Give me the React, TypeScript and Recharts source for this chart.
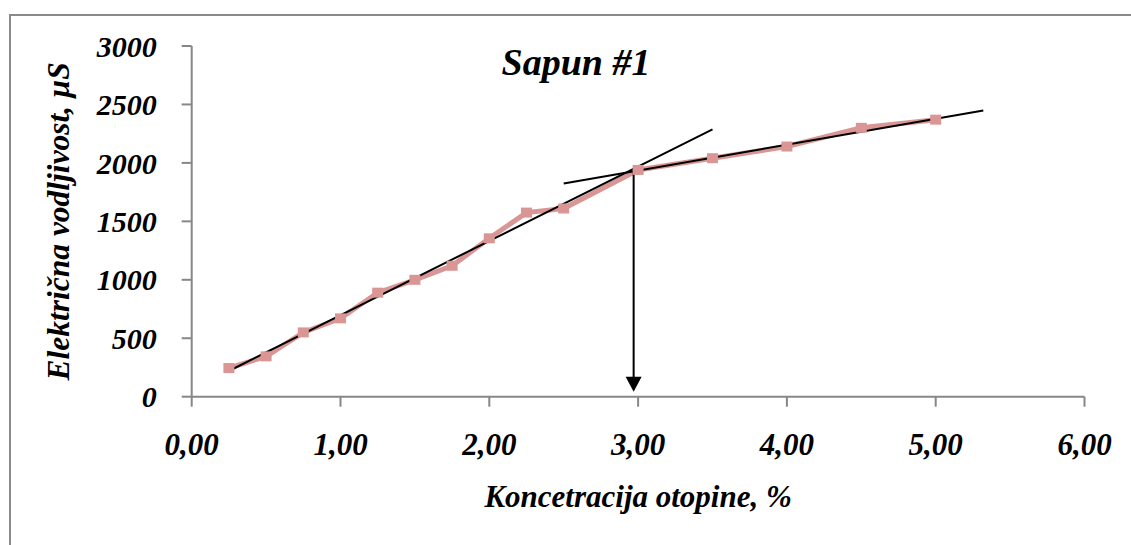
import React from "react";
import {
  ComposedChart,
  Line,
  XAxis,
  YAxis,
  ReferenceDot,
} from "recharts";

// measured points
const concentration = [0.25, 0.5, 0.75, 1, 1.25, 1.5, 1.75, 2, 2.25, 2.5, 3, 3.5, 4, 4.5, 5];
const conductivity = [245, 345, 550, 670, 890, 1000, 1120, 1355, 1575, 1610, 1940, 2040, 2140, 2300, 2370];

// hand-drawn tangents and the arrow to the break point
const steepX = [0.25, 3.5];
const steepY = [220, 2286];
const flatX = [2.5, 5.32];
const flatY = [1823, 2449];
const arrowX = [2.97, 2.97];
const arrowY = [1943, 100];

const xTicks = [0, 1, 2, 3, 4, 5, 6];
const yTicks = [0, 500, 1000, 1500, 2000, 2500, 3000];

const toPoints = (xs: number[], ys: number[]) => xs.map((x, i) => ({ x, y: ys[i] }));

const series = toPoints(concentration, conductivity);
const steep = toPoints(steepX, steepY);
const flat = toPoints(flatX, flatY);
const arrow = toPoints(arrowX, arrowY);

const FONT = "'Liberation Serif', 'Times New Roman', serif";
const AXIS = "#878787";
const PINK = "#D99694";

const SquareDot = (props: any) => {
  const { cx, cy } = props;
  if (cx == null || cy == null) return null;
  return <rect x={cx - 5.5} y={cy - 5} width={11} height={10} fill={PINK} />;
};

const ArrowHead = (props: any) => {
  const { cx, cy } = props;
  return (
    <polygon
      points={`${cx - 8},${cy - 20} ${cx + 8},${cy - 20} ${cx},${cy - 5}`}
      fill="#000"
    />
  );
};

const tickStyle = { fontFamily: FONT, fontWeight: 700, fontStyle: "italic", fill: "#000" };

export default function App() {
  return (
    <div
      style={{
        position: "fixed",
        left: 0,
        top: 0,
        width: 1131,
        height: 545,
        overflow: "hidden",
        background: "#fff",
      }}
    >
      <div
        style={{
          position: "absolute",
          left: 9,
          top: 14,
          width: 1200,
          height: 600,
          border: "2px solid #8a8a8a",
        }}
      />
      <div
        style={{
          position: "absolute",
          left: 0,
          top: 40,
          width: 1152,
          textAlign: "center",
          fontFamily: FONT,
          fontWeight: 700,
          fontStyle: "italic",
          fontSize: 38,
          color: "#000",
        }}
      >
        Sapun #1
      </div>
      <div style={{ position: "absolute", left: 0, top: 0 }}>
        <ComposedChart
          width={1131}
          height={545}
          margin={{ top: 46, right: 46.5, left: 0, bottom: 18.3 }}
        >
          <XAxis
            type="number"
            dataKey="x"
            domain={[0, 6]}
            ticks={xTicks}
            interval={0}
            allowDataOverflow
            height={130}
            stroke={AXIS}
            strokeWidth={2}
            tickSize={10}
            tickMargin={26}
            tick={{ ...tickStyle, fontSize: 31 }}
            tickFormatter={(v: number) => v.toFixed(2).replace(".", ",")}
            label={{
              value: "Koncetracija otopine, %",
              position: "insideBottom",
              offset: 20,
              style: { ...tickStyle, fontSize: 31 },
            }}
          />
          <YAxis
            type="number"
            domain={[0, 3000]}
            ticks={yTicks}
            interval={0}
            width={191.7}
            stroke={AXIS}
            strokeWidth={2}
            tickSize={10}
            tickMargin={25}
            tick={{ ...tickStyle, fontSize: 30 }}
            label={{
              value: "Električna vodljivost, µS",
              angle: -90,
              position: "insideLeft",
              offset: 58,
              style: { ...tickStyle, fontSize: 31.5, textAnchor: "middle" },
            }}
          />
          <Line
            data={series}
            dataKey="y"
            stroke={PINK}
            strokeWidth={5}
            dot={<SquareDot />}
            activeDot={false}
            isAnimationActive={false}
          />
          <Line
            data={steep}
            dataKey="y"
            stroke="#000"
            strokeWidth={2}
            dot={false}
            activeDot={false}
            isAnimationActive={false}
          />
          <Line
            data={flat}
            dataKey="y"
            stroke="#000"
            strokeWidth={2}
            dot={false}
            activeDot={false}
            isAnimationActive={false}
          />
          <Line
            data={arrow}
            dataKey="y"
            stroke="#000"
            strokeWidth={2}
            dot={false}
            activeDot={false}
            isAnimationActive={false}
          />
          <ReferenceDot x={arrowX[0]} y={0} r={8} shape={<ArrowHead />} />
        </ComposedChart>
      </div>
    </div>
  );
}
